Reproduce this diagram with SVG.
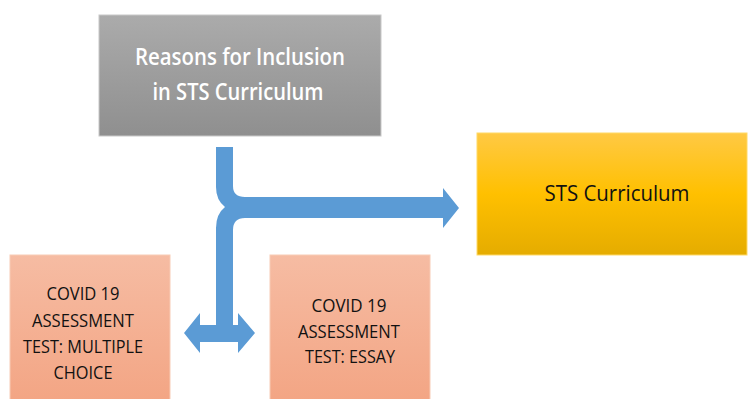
<svg xmlns="http://www.w3.org/2000/svg" width="748" height="399" viewBox="0 0 748 399">
<defs>
<linearGradient id="gGray" x1="0" y1="0" x2="0" y2="1"><stop offset="0" stop-color="#ABABAB"/><stop offset="1" stop-color="#8F8F8F"/></linearGradient>
<linearGradient id="gYel" x1="0" y1="0" x2="0" y2="1"><stop offset="0" stop-color="#FFC944"/><stop offset="0.5" stop-color="#FFC000"/><stop offset="1" stop-color="#E5AC00"/></linearGradient>
<linearGradient id="gPink" x1="0" y1="0" x2="0" y2="1"><stop offset="0" stop-color="#F6BCA3"/><stop offset="1" stop-color="#F3A584"/></linearGradient>
<style>
.t{font-family:"Open Sans","Noto Sans","Liberation Sans",sans-serif;text-anchor:middle}
.w{fill:#FFFFFF;font-size:23px;font-weight:600}
.k{fill:#111111}
.s{font-size:18px}
</style>
</defs>
<rect width="748" height="399" fill="#FFFFFF"/>
<g id="node-reasons">
<rect x="99" y="15" width="282" height="121" fill="url(#gGray)" stroke="#C8C8C8" stroke-width="1"/>
<text class="t w" x="240" y="65" textLength="210" lengthAdjust="spacingAndGlyphs">Reasons for Inclusion</text>
<text class="t w" x="238" y="100" textLength="171" lengthAdjust="spacingAndGlyphs">in STS Curriculum</text>
</g>
<g id="node-sts">
<rect x="477" y="133" width="270" height="122" fill="url(#gYel)" stroke="#FFD966" stroke-width="1"/>
<text class="t k" x="617" y="201" font-size="21" textLength="145" lengthAdjust="spacingAndGlyphs">STS Curriculum</text>
</g>
<g id="node-mcq">
<rect x="10" y="255" width="160" height="146" fill="url(#gPink)" stroke="#F8CBB5" stroke-width="1"/>
<text class="t k s" x="83" y="300" textLength="73" lengthAdjust="spacingAndGlyphs">COVID 19</text>
<text class="t k s" x="83" y="327" textLength="102" lengthAdjust="spacingAndGlyphs">ASSESSMENT</text>
<text class="t k s" x="83" y="353" textLength="120" lengthAdjust="spacingAndGlyphs">TEST: MULTIPLE</text>
<text class="t k s" x="83" y="379" textLength="59" lengthAdjust="spacingAndGlyphs">CHOICE</text>
</g>
<g id="node-essay">
<rect x="270" y="255" width="160" height="146" fill="url(#gPink)" stroke="#F8CBB5" stroke-width="1"/>
<text class="t k s" x="349" y="312" textLength="75" lengthAdjust="spacingAndGlyphs">COVID 19</text>
<text class="t k s" x="349" y="338" textLength="102" lengthAdjust="spacingAndGlyphs">ASSESSMENT</text>
<text class="t k s" x="350" y="363" textLength="90" lengthAdjust="spacingAndGlyphs">TEST: ESSAY</text>
</g>
<g id="connectors">
<path d="M216,147 H233 V186 Q233,197 245,197 H443 V188 L459,208 L443,228 V218 H245 Q233,218 233,230 V325 H238 V313 L255,333 L238,353 V342 H200 V353 L184,333 L200,313 V325 H216 V228 Q216,214 225,207 Q216,200 216,187 Z" fill="#5B9BD5"/>
</g>
</svg>
